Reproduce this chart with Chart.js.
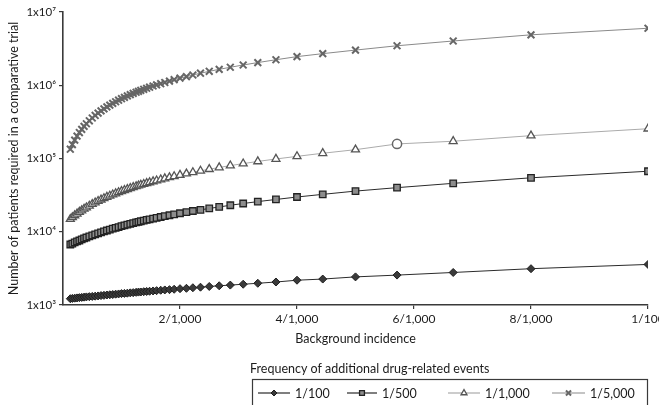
<!DOCTYPE html>
<html>
<head>
<meta charset="utf-8">
<script src="https://cdn.jsdelivr.net/npm/chart.js@4/dist/chart.umd.min.js"></script>
<style>
  html, body { margin: 0; padding: 0; background: #fff; }
  #wrap { position: relative; width: 659px; height: 405px; }
</style>
</head>
<body>
<div id="wrap"><canvas id="chart" width="659" height="405"></canvas></div>
<script>
// background incidence (x) and required patients per extra-event frequency
const incidence = [0.000125, 0.00016, 0.0002, 0.00024, 0.00028, 0.00032, 0.00036, 0.0004, 0.00045, 0.0005,
  0.00055, 0.0006, 0.00065, 0.0007, 0.00075, 0.0008, 0.00085, 0.0009, 0.00095, 0.001,
  0.00105, 0.0011, 0.00115, 0.0012, 0.00125, 0.00129, 0.00133, 0.00138, 0.00143, 0.00148,
  0.00154, 0.0016, 0.00167, 0.00174, 0.00182, 0.0019, 0.002, 0.00211, 0.00222, 0.00235,
  0.0025, 0.00267, 0.00286, 0.00308, 0.00333, 0.00364, 0.004, 0.00444, 0.005, 0.00571,
  0.00667, 0.008, 0.01]

const n100 = [1220, 1230, 1240, 1250, 1260, 1270, 1280, 1290, 1300, 1310,
  1320, 1330, 1345, 1355, 1370, 1380, 1390, 1405, 1415, 1430,
  1440, 1450, 1465, 1475, 1490, 1500, 1505, 1520, 1530, 1540,
  1555, 1570, 1590, 1605, 1620, 1640, 1670, 1690, 1720, 1750,
  1790, 1830, 1870, 1920, 1980, 2060, 2180, 2260, 2420, 2560,
  2780, 3130, 3580]

const n500 = [6700, 6900, 7150, 7400, 7600, 7850, 8100, 8350, 8650, 8950,
  9200, 9500, 9800, 10100, 10400, 10700, 11000, 11300, 11600, 11900,
  12200, 12500, 12800, 13100, 13400, 13600, 13900, 14200, 14500, 14800,
  15100, 15500, 15900, 16300, 16800, 17300, 17900, 18500, 19200, 19900,
  20800, 21800, 23000, 24300, 25800, 27600, 29800, 32400, 35900, 40000,
  45800, 54500, 67000]

const n1000 = [14900, 15700, 16700, 17600, 18600, 19500, 20500, 21400, 22600, 23800,
  25000, 26200, 27400, 28600, 29800, 30900, 32100, 33300, 34500, 35700,
  36900, 38100, 39300, 40500, 41700, 42600, 43600, 44700, 45900, 47100,
  48600, 50000, 51600, 53300, 55200, 57100, 59500, 62100, 64700, 67800,
  71400, 75400, 80000, 85200, 91200, 98500, 107000, 118000, 132000, 158000,
  172000, 205000, 255000]

const n5000 = [134000, 155000, 178000, 202000, 226000, 250000, 274000, 298000, 327000, 357000,
  387000, 417000, 446000, 476000, 506000, 536000, 565000, 595000, 625000, 655000,
  684000, 714000, 744000, 774000, 803000, 827000, 851000, 881000, 910000, 940000,
  976000, 1010000, 1050000, 1090000, 1140000, 1190000, 1250000, 1310000, 1380000, 1460000,
  1550000, 1650000, 1760000, 1890000, 2040000, 2230000, 2460000, 2700000, 3020000, 3460000,
  4020000, 4880000, 6000000]

const seriesLabels = ["1/100", "1/500", "1/1,000", "1/5,000"]
const xTickValues = [0.002, 0.004, 0.006, 0.008, 0.01]
const xTickLabels = ["2/1,000", "4/1,000", "6/1,000", "8/1,000", "1/100"]
const yTickValues = [1e3, 1e4, 1e5, 1e6, 1e7]
const yTickLabels = ["1x10³", "1x10⁴", "1x10⁵", "1x10⁶", "1x10⁷"]
// the one odd marker in the 1/1,000 series
const oddPoint = 0.00571

const FONT = "Lato, 'Open Sans', sans-serif"
const axisColor = "#3a3a3a"
const textColor = "#1c1c1c"

function toPoints(values) {
  return values.map((v, i) => ({ x: incidence[i], y: v }))
}

const styles = [
  { line: "#2b2b2b", point: "rectRot", radius: 4, fill: "#3a3a3a", border: "#1e1e1e", bw: 1 },
  { line: "#2b2b2b", point: "rect", radius: 4.6, fill: "#8c8c8c", border: "#222", bw: 1.3 },
  { line: "#ababab", point: "triangle", radius: 4.6, fill: "#ffffff", border: "#555", bw: 1.3 },
  { line: "#8a8a8a", point: "crossRot", radius: 4.8, fill: "#666", border: "#666", bw: 2 }
]

function buildDataset(label, values, s) {
  return {
    label,
    data: toPoints(values),
    borderColor: s.line,
    borderWidth: 1,
    backgroundColor: s.fill,
    pointStyle: s.point,
    pointRadius: s.radius,
    pointBackgroundColor: s.fill,
    pointBorderColor: s.border,
    pointBorderWidth: s.bw,
    tension: 0
  }
}

const datasets = [
  buildDataset(seriesLabels[0], n100, styles[0]),
  buildDataset(seriesLabels[1], n500, styles[1]),
  buildDataset(seriesLabels[2], n1000, styles[2]),
  buildDataset(seriesLabels[3], n5000, styles[3])
]
// circle instead of triangle at one point
datasets[2].pointStyle = incidence.map(x => x === oddPoint ? "circle" : "triangle")
datasets[2].pointBorderWidth = incidence.map(x => x === oddPoint ? 1.5 : 1.3)
datasets[2].pointBorderColor = incidence.map(x => x === oddPoint ? "#666" : "#555")

const legendPlugin = {
  id: "boxLegend",
  afterDraw(chart) {
    const ctx = chart.ctx
    const helpers = Chart.helpers
    ctx.save()
    ctx.font = "12.5px " + FONT
    ctx.fillStyle = textColor
    ctx.textBaseline = "alphabetic"
    ctx.textAlign = "left"
    ctx.fillText("Frequency of additional drug-related events", 250, 373)

    ctx.strokeStyle = axisColor
    ctx.lineWidth = 1.2
    ctx.strokeRect(252.5, 379.5, 395, 40)

    const y = 393
    const items = [
      { x0: 258, x1: 290, text: 295 },
      { x0: 347, x1: 377, text: 382 },
      { x0: 448, x1: 480, text: 485 },
      { x0: 552, x1: 585, text: 590 }
    ]
    items.forEach((it, i) => {
      const s = styles[i]
      ctx.strokeStyle = s.line
      ctx.lineWidth = 1.2
      ctx.beginPath()
      ctx.moveTo(it.x0, y)
      ctx.lineTo(it.x1, y)
      ctx.stroke()
      ctx.fillStyle = s.fill
      ctx.strokeStyle = s.border
      ctx.lineWidth = s.bw
      helpers.drawPoint(ctx, { pointStyle: s.point, radius: s.radius * 0.75, rotation: 0, borderWidth: s.bw }, (it.x0 + it.x1) / 2, y)
      ctx.fillStyle = textColor
      ctx.textBaseline = "middle"
      ctx.fillText(seriesLabels[i], it.text, y + 1)
    })
    ctx.restore()
  }
}

const ctx = document.getElementById("chart").getContext("2d")
new Chart(ctx, {
  type: "line",
  data: { datasets },
  plugins: [legendPlugin],
  options: {
    responsive: false,
    animation: false,
    layout: { padding: { top: 12, right: 11, bottom: 58, left: 0 } },
    plugins: {
      legend: { display: false },
      tooltip: { enabled: false }
    },
    scales: {
      x: {
        type: "linear",
        min: 0,
        max: 0.01,
        afterBuildTicks: (scale) => { scale.ticks = xTickValues.map(v => ({ value: v })) },
        afterFit: (scale) => { scale.height = 42; scale.paddingRight = 0; scale.paddingLeft = 0 },
        grid: { display: true, drawOnChartArea: false, drawTicks: true, tickLength: 4, color: axisColor, lineWidth: 1.2 },
        border: { display: true, color: axisColor, width: 1.6 },
        ticks: {
          color: textColor,
          padding: 3,
          maxRotation: 0,
          autoSkip: false,
          font: { family: FONT, size: 12 },
          callback: (value) => {
            const i = xTickValues.findIndex(v => Math.abs(v - value) < 1e-9)
            return i >= 0 ? xTickLabels[i] : ""
          }
        },
        title: {
          display: true,
          text: "Background incidence",
          color: textColor,
          font: { family: FONT, size: 12.5 },
          padding: { top: 0, bottom: 1 }
        }
      },
      y: {
        type: "logarithmic",
        min: 1e3,
        max: 1e7,
        afterBuildTicks: (scale) => { scale.ticks = yTickValues.map(v => ({ value: v })) },
        afterFit: (scale) => { scale.width = 63; scale.paddingTop = 0; scale.paddingBottom = 0 },
        grid: { display: true, drawOnChartArea: false, drawTicks: true, tickLength: 4, color: axisColor, lineWidth: 1.2 },
        border: { display: true, color: axisColor, width: 1.6 },
        ticks: {
          color: textColor,
          padding: 3,
          autoSkip: false,
          font: { family: FONT, size: 11.5 },
          callback: (value) => {
            const i = yTickValues.indexOf(value)
            return i >= 0 ? yTickLabels[i] : ""
          }
        },
        title: {
          display: true,
          text: "Number of patients required in a comparative trial",
          color: textColor,
          font: { family: FONT, size: 12.5 },
          padding: { top: 6, bottom: 0 }
        }
      }
    }
  }
})
</script>
</body>
</html>
